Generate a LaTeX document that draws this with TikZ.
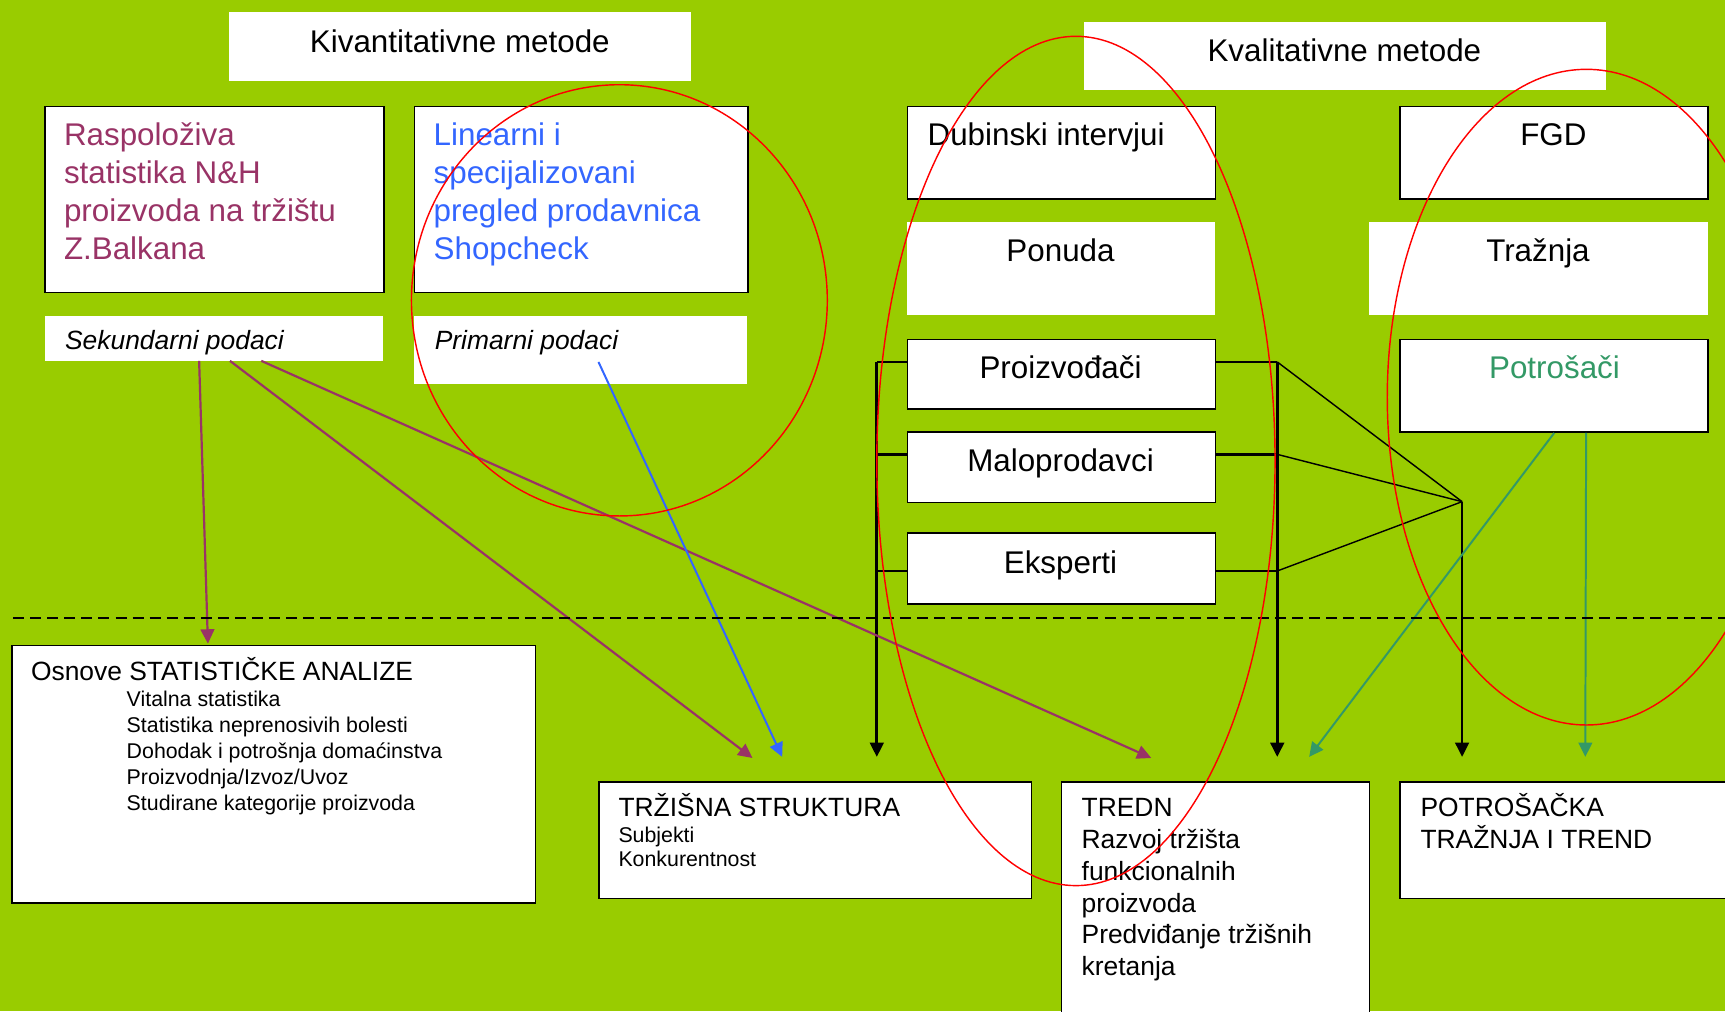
\documentclass[tikz,border=0pt]{standalone}
\usepackage{fontspec}
\setmainfont{Liberation Sans}
\usetikzlibrary{arrows.meta}

\definecolor{bggreen}{HTML}{99CC00}
\definecolor{srcpurple}{HTML}{993366}
\definecolor{srcblue}{HTML}{3366FF}
\definecolor{consgreen}{HTML}{339966}
\definecolor{ovalred}{HTML}{FF0000}

\tikzset{
	box/.style={draw=black, line width=1.5pt, fill=white, anchor=north west, inner sep=0pt},
	plainbox/.style={fill=white, anchor=north west, inner sep=0pt},
	bigtxt/.style={font=\fontsize{28.5}{34.7}\selectfont, inner sep=0pt},
	midtxt/.style={font=\fontsize{24}{29}\selectfont, inner sep=0pt, anchor=base west, align=left},
	smalltxt/.style={font=\fontsize{19.4}{23.5}\selectfont, inner sep=0pt, anchor=base west, align=left},
	srctxt/.style={font=\fontsize{24}{29}\selectfont\itshape, inner sep=0pt, anchor=base west},
	bus/.style={line width=2.4pt},
	fan/.style={line width=1.3pt},
	tip/.style={-{Triangle[length=13pt, width=12.5pt]}},
	oval/.style={ovalred, line width=1.3pt},
}

\begin{document}
\begin{tikzpicture}[x=1pt, y=-1pt]
	\clip (0,0) rectangle (1568,919);
	\fill[bggreen] (0,0) rectangle (1568,919);

	\node[plainbox, minimum width=420pt, minimum height=62pt] (kvant) at (208,11) {};
	\node[plainbox, minimum width=475pt, minimum height=62pt] (kval) at (985,20) {};
	\node[box, minimum width=308pt, minimum height=169pt] (rasp) at (40,96) {};
	\node[box, minimum width=303pt, minimum height=169pt] (linear) at (376,96) {};
	\node[plainbox, minimum width=307pt, minimum height=41pt] (sekund) at (41,287) {};
	\node[plainbox, minimum width=303pt, minimum height=62pt] (primar) at (376,287) {};
	\node[box, minimum width=280pt, minimum height=84pt] (dubin) at (824,96) {};
	\node[plainbox, minimum width=280pt, minimum height=84pt] (ponuda) at (824,202) {};
	\node[box, minimum width=280pt, minimum height=84pt] (fgd) at (1272,96) {};
	\node[plainbox, minimum width=308pt, minimum height=84pt] (traz) at (1244,202) {};
	\node[box, minimum width=280pt, minimum height=63pt] (proizv) at (824,308) {};
	\node[box, minimum width=280pt, minimum height=64pt] (malop) at (824,392) {};
	\node[box, minimum width=280pt, minimum height=64pt] (eksp) at (824,484) {};
	\node[box, minimum width=280pt, minimum height=84pt] (potros) at (1272,308) {};
	\node[box, minimum width=476pt, minimum height=234pt] (osnove) at (10,586) {};
	\node[box, minimum width=393pt, minimum height=106pt] (struk) at (544,710) {};
	\node[box, minimum width=280pt, minimum height=320pt] (tredn) at (964,710) {};
	\node[box, minimum width=310pt, minimum height=106pt] (ptrend) at (1272,710) {};

	\node[bigtxt, anchor=base] (kvant-t) at (418,48) {Kivantitativne metode};
	\node[bigtxt, anchor=base] (kval-t) at (1222,56) {Kvalitativne metode};
	\node[bigtxt, anchor=base west, align=left, text=srcpurple] (rasp-t) at (58,236.3) {Raspoloživa\\statistika N\&H\\proizvoda na tržištu\\Z.Balkana};
	\node[bigtxt, anchor=base west, align=left, text=srcblue] (linear-t) at (394,236.3) {Linearni i\\specijalizovani\\pregled prodavnica\\Shopcheck};
	\node[srctxt] (sekund-t) at (59,318) {Sekundarni podaci};
	\node[srctxt] (primar-t) at (395,318) {Primarni podaci};
	\node[bigtxt, anchor=base west] (dubin-t) at (843,132) {Dubinski intervjui};
	\node[bigtxt, anchor=base] (ponuda-t) at (964,238) {Ponuda};
	\node[bigtxt, anchor=base] (fgd-t) at (1412,132) {FGD};
	\node[bigtxt, anchor=base] (traz-t) at (1398,238) {Tražnja};
	\node[bigtxt, anchor=base] (proizv-t) at (964,344) {Proizvođači};
	\node[bigtxt, anchor=base] (malop-t) at (964,429) {Maloprodavci};
	\node[bigtxt, anchor=base] (eksp-t) at (964,521) {Eksperti};
	\node[bigtxt, anchor=base, text=consgreen] (potros-t) at (1413,344) {Potrošači};

	\node[midtxt] (osnove-t) at (28,619) {Osnove STATISTIČKE ANALIZE};
	\node[smalltxt] (osnove-l) at (115,736.4) {Vitalna statistika\\Statistika neprenosivih bolesti\\Dohodak i potrošnja domaćinstva\\Proizvodnja/Izvoz/Uvoz\\Studirane kategorije proizvoda};
	\node[midtxt] (struk-t) at (562,742) {TRŽIŠNA STRUKTURA};
	\node[smalltxt, font=\fontsize{19.4}{22}\selectfont] (struk-l) at (562,788) {Subjekti\\Konkurentnost};
	\node[midtxt] (tredn-t) at (983,887) {TREDN\\Razvoj tržišta\\funkcionalnih\\proizvoda\\Predviđanje tržišnih\\kretanja};
	\node[midtxt] (ptrend-t) at (1291,771) {POTROŠAČKA\\TRAŽNJA I TREND};

	\coordinate (lb1) at (797,329);
	\coordinate (lb2) at (797,413);
	\coordinate (lb3) at (797,519);
	\coordinate (lbend) at (797,688);
	\coordinate (rb1) at (1161,329);
	\coordinate (rb2) at (1161,413);
	\coordinate (rb3) at (1161,519);
	\coordinate (rbend) at (1161,688);
	\coordinate (join) at (1329,456);
	\coordinate (joinend) at (1329,688);
	\coordinate (cons1) at (1190,688);
	\coordinate (cons2) at (1441,688);
	\coordinate (sek1) at (181,328);
	\coordinate (sek2) at (209,328);
	\coordinate (sek3) at (237.5,328);
	\coordinate (prim1) at (544,329);
	\coordinate (osn-in) at (189,585);
	\coordinate (struk-in) at (684,689);
	\coordinate (struk-in2) at (711,688);
	\coordinate (tredn-in) at (1046.5,689);
	\coordinate (dashL) at (12,561.5);
	\coordinate (dashR) at (1568,561.5);

	\draw[bus] (lb1) -- (lb1 -| proizv.west);
	\draw[bus] (lb2) -- (lb2 -| malop.west);
	\draw[bus] (lb3) -- (lb3 -| eksp.west);
	\draw[bus] (rb1 -| proizv.east) -- (rb1);
	\draw[bus] (rb2 -| malop.east) -- (rb2);
	\draw[bus] (rb3 -| eksp.east) -- (rb3);
	\draw[bus, tip] (lb1) -- (lbend);
	\draw[bus, tip] (rb1) -- (rbend);
	\draw[fan] (rb1) -- (join);
	\draw[fan] (rb2) -- (join);
	\draw[fan] (rb3) -- (join);
	\draw[line width=2pt, tip] (join) -- (joinend);

	\draw[consgreen, line width=1.8pt, tip] (potros.south) -- (cons1);
	\draw[consgreen, line width=1.8pt, tip] ([xshift=29pt]potros.south) -- (cons2);

	\draw[srcpurple, line width=2pt, tip] (sek1) -- (osn-in);
	\draw[srcpurple, line width=2pt, tip] (sek2) -- (struk-in);
	\draw[srcpurple, line width=2pt, tip] (sek3) -- (tredn-in);
	\draw[srcblue, line width=1.8pt, tip] (prim1) -- (struk-in2);

	\draw[line width=2pt, dash pattern=on 10pt off 5.5pt] (dashL) -- (dashR);

	\draw[oval] (563,273) ellipse [x radius=189pt, y radius=196pt];
	\draw[oval] (978,419) ellipse [x radius=181pt, y radius=386pt];
	\draw[oval] (1442,361) ellipse [x radius=181pt, y radius=298pt];

\end{tikzpicture}
\end{document}
